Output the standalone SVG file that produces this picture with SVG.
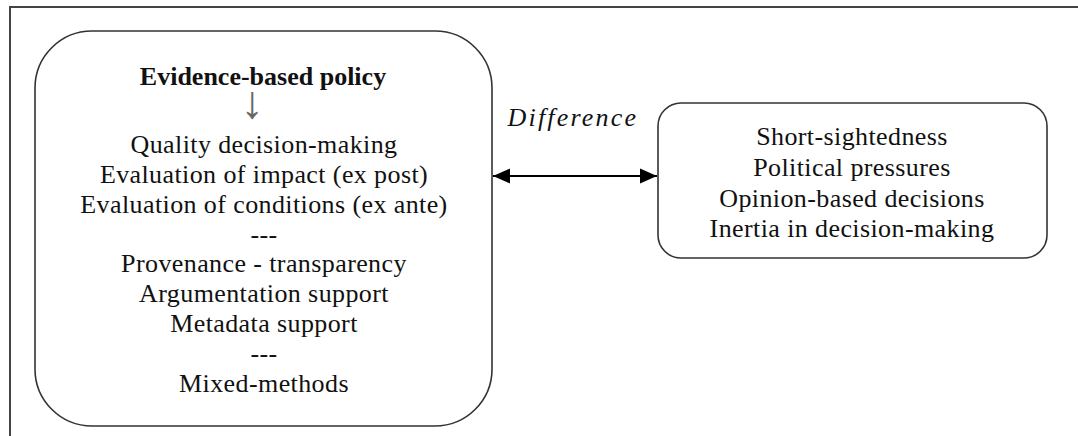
<svg xmlns="http://www.w3.org/2000/svg" width="1078" height="436" viewBox="0 0 1078 436">
<style>
.t{font-family:"Liberation Serif","Times New Roman",serif;font-size:26px;fill:#111;text-anchor:middle;letter-spacing:0.4px}
.b{font-weight:bold;letter-spacing:0}
.box{fill:#fff;stroke:#333;stroke-width:1.6}
.frame{fill:none;stroke:#444;stroke-width:2}
.conn{stroke:#000;stroke-width:1.8;fill:none}
</style>
<defs>
<marker id="ah" markerUnits="userSpaceOnUse" markerWidth="18" markerHeight="16" refX="17" refY="8" orient="auto-start-reverse">
<path d="M0,0.5 L17,8 L0,15.5 Z" fill="#000"/>
</marker>
</defs>
<rect width="1078" height="436" fill="#fff"/>
<rect class="frame" x="10" y="7" width="1100" height="500"/>
<g id="evidence-based-policy">
<rect class="box" x="35" y="31" width="457" height="395" rx="57" ry="57"/>
<text class="t b" x="263" y="85">Evidence-based policy</text>
<text class="t" x="252" y="118" style="fill:#666;font-size:46px;letter-spacing:0">↓</text>
<text class="t" x="264" y="153">Quality decision-making</text>
<text class="t" x="264" y="183">Evaluation of impact (ex post)</text>
<text class="t" x="264" y="213">Evaluation of conditions (ex ante)</text>
<text class="t" x="264" y="243">---</text>
<text class="t" x="264" y="272">Provenance - transparency</text>
<text class="t" x="264" y="302">Argumentation support</text>
<text class="t" x="264" y="332">Metadata support</text>
<text class="t" x="264" y="362">---</text>
<text class="t" x="264" y="392">Mixed-methods</text>
</g>
<g id="opinion-based-policy">
<rect class="box" x="658" y="103" width="389" height="155" rx="23" ry="23"/>
<text class="t" x="852" y="145">Short-sightedness</text>
<text class="t" x="852" y="176">Political pressures</text>
<text class="t" x="852" y="207">Opinion-based decisions</text>
<text class="t" x="852" y="237">Inertia in decision-making</text>
</g>
<g id="connectors">
<line class="conn" x1="493" y1="176" x2="657" y2="176" marker-start="url(#ah)" marker-end="url(#ah)"/>
<text class="t" x="572" y="126" style="font-style:italic" textLength="129" lengthAdjust="spacing">Difference</text>
</g>
</svg>
